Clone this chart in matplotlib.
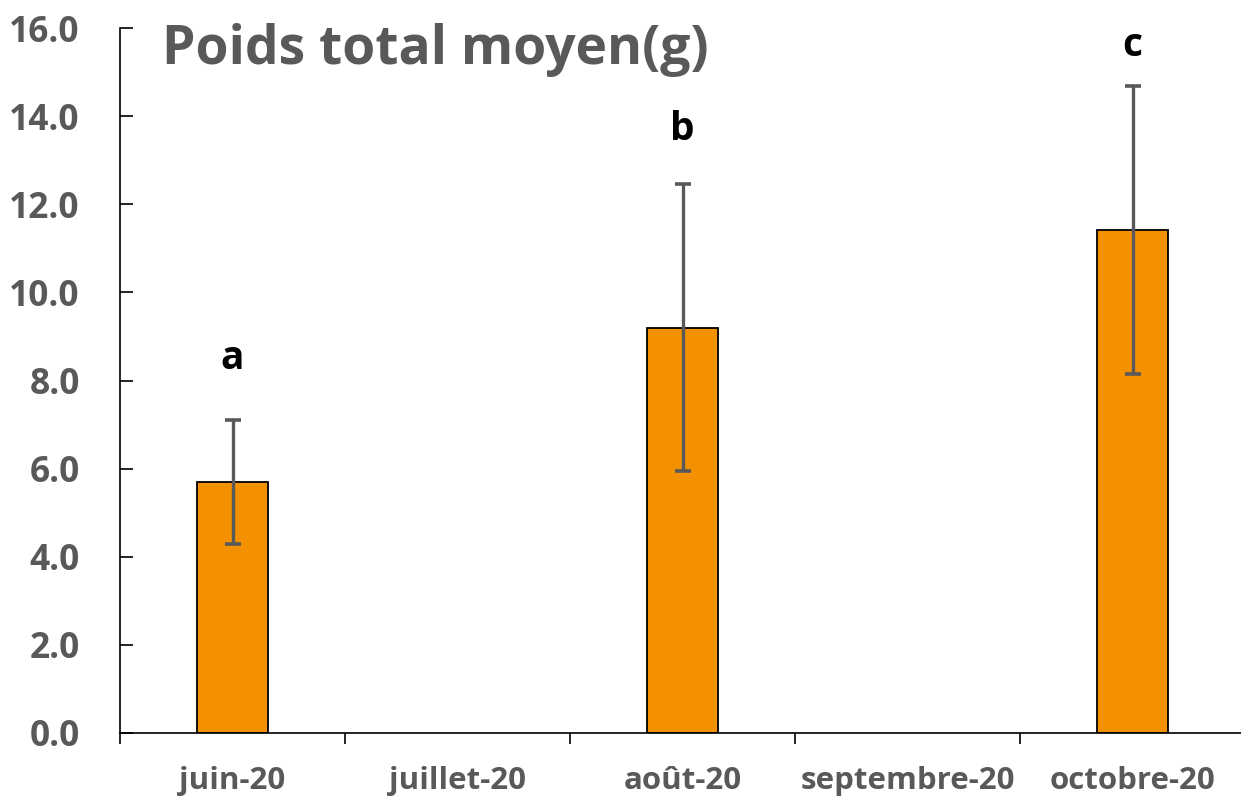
import matplotlib
matplotlib.use("Agg")
import matplotlib.pyplot as plt
import numpy as np

categories = ["juin-20", "juillet-20", "août-20", "septembre-20", "octobre-20"]
values = [5.70, np.nan, 9.20, np.nan, 11.42]
errors = [1.40, np.nan, 3.25, np.nan, 3.27]
letters = ["a", "", "b", "", "c"]
letter_y = [8.5, None, 13.7, None, 15.6]
yticks = [0, 2, 4, 6, 8, 10, 12, 14, 16]

plt.rcParams['font.family'] = ['Open Sans', 'DejaVu Sans']
gray = '#595959'

fig = plt.figure(figsize=(12.41, 7.99), dpi=100)
ax = fig.add_axes([120/1241, 66/799, 1125/1241, 705/799])

x = np.arange(len(categories))
vals = np.array(values, dtype=float)
errs = np.array(errors, dtype=float)
mask = ~np.isnan(vals)
ax.bar(x[mask], vals[mask], width=0.315, color='#F49100', edgecolor='black', linewidth=1.3, zorder=2)
ax.errorbar(x[mask], vals[mask], yerr=errs[mask], fmt='none', ecolor=gray,
            elinewidth=2.4, capsize=6, capthick=2.6, zorder=3)

for xi, l, ly in zip(x, letters, letter_y):
    if l:
        ax.text(xi, ly, l, ha='center', va='center', fontsize=28, fontweight='bold', color='black')

ax.set_xlim(-0.5, len(categories) - 0.5)
ax.set_ylim(0, 16)
ax.set_yticks(yticks)
ax.set_yticklabels([f"{v:.1f}" for v in yticks])
ax.set_xticks(x)
ax.set_xticklabels(categories)
ax.set_xticks(np.arange(-0.5, len(categories), 1.0), minor=True)

for s in ['top', 'right']:
    ax.spines[s].set_visible(False)
for s in ['left', 'bottom']:
    ax.spines[s].set_linewidth(1.2)
    ax.spines[s].set_color('black')

ax.tick_params(axis='y', direction='in', length=9, width=1.2, pad=29,
               labelsize=25.5, labelcolor=gray)
for t in ax.get_yticklabels():
    t.set_fontweight('bold')
ax.tick_params(axis='x', which='major', length=0, pad=24, labelsize=22.5, labelcolor=gray)
ax.tick_params(axis='x', which='minor', direction='out', length=8, width=1.2)
for t in ax.get_xticklabels():
    t.set_fontweight('bold')

ax.text(162/1241, 1 - 50/799, "Poids total moyen(g)", transform=fig.transFigure,
        ha='left', va='center', fontsize=38.5, fontweight='bold', color=gray)

fig.savefig("out.png", dpi=100)
